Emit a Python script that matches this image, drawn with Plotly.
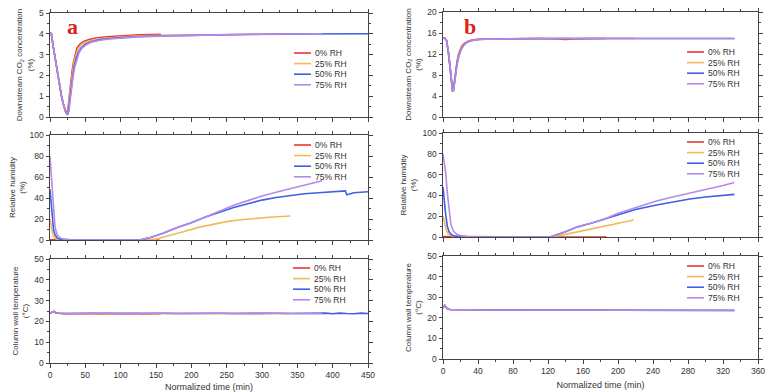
import plotly.graph_objects as go

# ---------------- data ----------------
SERIES = ["0% RH", "25% RH", "50% RH", "75% RH"]
COLORS = ["#e8383a", "#f2b95a", "#3f5fe6", "#b58ae8"]

X_TICKS_A = [0, 50, 100, 150, 200, 250, 300, 350, 400, 450]
X_TICKS_B = [0, 40, 80, 120, 160, 200, 240, 280, 320, 360]
Y_TICKS_CO2_A = [0, 1, 2, 3, 4, 5]
Y_TICKS_CO2_B = [0, 4, 8, 12, 16, 20]
Y_TICKS_RH = [0, 20, 40, 60, 80, 100]
Y_TICKS_TEMP = [0, 10, 20, 30, 40, 50]

TITLE_CO2 = "Downstream CO<sub>2</sub> concentration<br>(%)"
TITLE_RH = "Relative humidity<br>(%)"
TITLE_TEMP = "Column wall temperature<br>(°C)"
TITLE_X = "Normalized time (min)"
PANEL_LABELS = ["a", "b"]

# panel a : downstream CO2
A_CO2_T0 = [0, 2, 4, 7, 10, 13, 16, 19, 22, 24, 25.5, 27, 29, 31, 33, 35, 38, 42, 47, 55, 65, 80, 100, 125, 157]
A_CO2_0 = [4.05, 4.0, 3.5, 2.85, 2.2, 1.6, 1.05, 0.6, 0.25, 0.12, 0.4, 0.95, 1.6, 2.15, 2.6, 2.95, 3.3, 3.5, 3.62, 3.72, 3.8, 3.86, 3.91, 3.95, 3.97]
A_CO2_T1 = [0, 2, 4, 7, 10, 13, 16, 19, 22, 24.5, 26, 27.5, 29.5, 31.5, 33.5, 36, 39, 43, 48, 56, 66, 80, 100, 125, 157, 200, 250, 300, 340]
A_CO2_1 = [4.05, 4.0, 3.5, 2.85, 2.2, 1.6, 1.05, 0.6, 0.25, 0.1, 0.4, 0.95, 1.6, 2.1, 2.55, 2.9, 3.22, 3.42, 3.56, 3.66, 3.74, 3.8, 3.86, 3.9, 3.93, 3.95, 3.97, 3.98, 3.98]
A_CO2_T2 = [0, 2, 4, 7, 10, 13, 16, 19, 22, 25, 26.5, 28, 30, 32, 34, 37, 40, 44, 50, 58, 68, 82, 100, 125, 157, 200, 250, 300, 350, 400, 450]
A_CO2_2 = [4.05, 4.0, 3.5, 2.85, 2.2, 1.6, 1.05, 0.6, 0.25, 0.1, 0.35, 0.85, 1.45, 1.95, 2.4, 2.8, 3.1, 3.32, 3.5, 3.62, 3.7, 3.77, 3.82, 3.87, 3.9, 3.93, 3.96, 3.98, 3.99, 4.0, 4.0]
A_CO2_T3 = [0, 2, 4, 7, 10, 13, 16, 19, 22, 25, 27, 28.5, 30.5, 32.5, 35, 38, 41, 45, 51, 59, 69, 83, 100, 125, 157, 200, 250, 300, 350, 385]
A_CO2_3 = [4.05, 4.0, 3.5, 2.85, 2.2, 1.6, 1.05, 0.6, 0.25, 0.1, 0.3, 0.8, 1.4, 1.9, 2.4, 2.8, 3.08, 3.3, 3.47, 3.6, 3.68, 3.75, 3.8, 3.85, 3.89, 3.93, 3.96, 3.98, 3.99, 4.0]

# panel b : downstream CO2
B_CO2_T0 = [0, 2, 4, 6, 8, 10, 11, 12, 14, 16, 18, 21, 24, 28, 33, 40, 50, 65, 85, 110, 130, 140, 150, 170, 187]
B_CO2_0 = [15.1, 15.0, 14.6, 12.5, 9.4, 6.1, 4.8, 5.3, 8.2, 10.5, 12.1, 13.4, 14.0, 14.4, 14.65, 14.8, 14.87, 14.9, 14.92, 14.93, 14.85, 14.75, 14.88, 14.95, 14.96]
B_CO2_T1 = [0, 2, 4, 6, 8, 10, 11, 12, 14, 16, 18, 21, 24, 28, 33, 40, 50, 65, 85, 110, 140, 170, 200, 218]
B_CO2_1 = [15.1, 15.0, 14.6, 12.6, 9.6, 6.3, 4.9, 5.2, 8.0, 10.3, 11.9, 13.2, 13.9, 14.35, 14.6, 14.78, 14.86, 14.9, 14.92, 14.94, 14.95, 14.96, 14.97, 14.97]
B_CO2_T2 = [0, 2, 4, 6, 8, 10, 11, 12, 14, 16, 18, 21, 24, 28, 33, 40, 50, 65, 85, 110, 140, 170, 200, 250, 300, 333]
B_CO2_2 = [15.1, 15.0, 14.6, 12.6, 9.7, 6.4, 5.0, 5.1, 7.8, 10.1, 11.7, 13.0, 13.8, 14.3, 14.58, 14.76, 14.85, 14.9, 14.92, 14.94, 14.95, 14.96, 14.97, 14.98, 14.99, 14.95]
B_CO2_T3 = [0, 2, 4, 6, 8, 10, 11, 12, 14, 16, 18, 21, 24, 28, 33, 40, 50, 65, 85, 110, 140, 170, 200, 250, 300, 333]
B_CO2_3 = [15.1, 15.0, 14.6, 12.7, 9.8, 6.5, 5.0, 5.0, 7.6, 9.9, 11.5, 12.9, 13.7, 14.25, 14.55, 14.74, 14.84, 14.89, 14.92, 14.94, 14.95, 14.96, 14.97, 14.98, 14.98, 14.95]

# panel a : relative humidity
A_RH_T0 = [0, 20, 50, 100, 155]
A_RH_0 = [0.3, 0, 0, 0, 0]
A_RH_T1 = [0, 2, 4, 6, 9, 12, 16, 25, 40, 80, 130, 150, 170, 190, 210, 230, 250, 270, 290, 310, 340]
A_RH_1 = [20, 10, 5, 2.5, 1, 0.5, 0.2, 0.1, 0, 0, 0, 1.0, 4.2, 8, 12, 15, 17.5, 19.3, 20.6, 21.6, 22.8]
A_RH_T2 = [0, 1, 3, 5, 7, 10, 14, 20, 30, 60, 100, 127, 140, 160, 180, 200, 220, 240, 260, 280, 300, 320, 340, 360, 380, 400, 418, 420, 422, 430, 450]
A_RH_2 = [48, 40, 22, 10, 5, 2, 0.8, 0.3, 0.1, 0, 0, 0, 2, 6.5, 12, 16.5, 22, 26.5, 31, 34.5, 38, 40.5, 42.5, 44, 45, 46, 46.7, 43, 43.5, 45, 46]
A_RH_T3 = [0, 1, 3, 5, 7, 10, 14, 20, 30, 60, 100, 127, 140, 160, 180, 200, 220, 240, 260, 280, 300, 320, 340, 360, 385]
A_RH_3 = [80, 70, 45, 25, 13, 5, 2, 0.7, 0.2, 0, 0, 0, 2, 6.5, 12, 16.5, 22, 27.5, 33, 37.5, 42, 45.5, 49, 52.5, 56.5]

# panel b : relative humidity
B_RH_T0 = [0, 50, 100, 150, 187]
B_RH_0 = [0.5, 0, 0, 0, 0]
B_RH_T1 = [0, 2, 4, 6, 9, 12, 16, 25, 50, 100, 122, 140, 153, 170, 182, 200, 218]
B_RH_1 = [20, 12, 6, 3, 1.5, 0.7, 0.3, 0.1, 0, 0, 0, 2.5, 4.8, 7.5, 9.8, 13, 16.3]
B_RH_T2 = [0, 1, 3, 5, 7, 10, 14, 20, 30, 60, 100, 122, 140, 153, 170, 181, 183, 200, 220, 244, 260, 282, 300, 320, 333]
B_RH_2 = [48, 38, 22, 10, 5, 2, 0.8, 0.3, 0.1, 0, 0, 0, 5, 9.5, 13.5, 16.3, 17.2, 21.5, 26.5, 30.8, 33.3, 36.5, 38.5, 40.2, 41]
B_RH_T3 = [0, 1, 3, 5, 7, 9, 12, 16, 20, 30, 60, 100, 122, 140, 153, 170, 182, 200, 220, 244, 260, 282, 300, 320, 333]
B_RH_3 = [80, 75, 62, 42, 25, 12, 5.5, 2.5, 1.5, 0.3, 0, 0, 0, 5, 9.5, 13.5, 16.3, 22.8, 28.5, 34.6, 38, 42, 45.5, 49.5, 52.5]

# panel a : column wall temperature
A_TEMP_T0 = [0, 3, 5, 8, 12, 20, 30, 40, 50, 60, 70, 80, 90, 100, 110, 120, 130, 140, 150, 157]
A_TEMP_0 = [23.9, 24.3, 24.8, 24.2, 23.9, 23.7, 23.8, 23.6, 23.7, 23.8, 23.6, 23.7, 23.8, 23.6, 23.7, 23.8, 23.6, 23.7, 23.8, 23.7]
A_TEMP_T1 = [0, 3, 5, 8, 12, 20, 40, 60, 80, 100, 120, 140, 160, 180, 200, 220, 240, 260, 280, 300, 320, 340]
A_TEMP_1 = [23.9, 24.3, 24.7, 24.2, 23.9, 23.8, 23.7, 23.8, 23.7, 23.8, 23.7, 23.8, 23.7, 23.8, 23.7, 23.8, 23.7, 23.8, 23.7, 23.8, 23.7, 23.8]
A_TEMP_T2 = [0, 3, 5, 8, 12, 20, 40, 60, 80, 100, 120, 140, 160, 180, 200, 220, 240, 260, 280, 300, 320, 340, 360, 380, 390, 400, 410, 420, 430, 440, 450]
A_TEMP_2 = [23.9, 24.3, 24.8, 24.2, 23.9, 23.8, 23.9, 23.8, 23.9, 23.8, 23.9, 23.8, 23.9, 23.8, 23.9, 23.8, 23.9, 23.8, 23.9, 23.8, 23.9, 23.8, 23.9, 23.8, 24.0, 23.7, 24.0, 23.8, 23.7, 24.0, 23.8]
A_TEMP_T3 = [0, 3, 5, 8, 12, 20, 40, 60, 80, 100, 120, 140, 160, 180, 200, 220, 240, 260, 280, 300, 320, 340, 360, 385]
A_TEMP_3 = [23.9, 24.3, 24.8, 24.2, 23.9, 23.8, 23.9, 23.8, 23.9, 23.8, 23.9, 23.8, 23.9, 23.8, 23.9, 23.8, 23.9, 23.8, 23.9, 23.8, 23.9, 23.8, 23.9, 23.8]

# panel b : column wall temperature
B_TEMP_T0 = [0, 1, 2, 3, 5, 8, 15, 30, 60, 90, 120, 150, 187]
B_TEMP_0 = [24.8, 25.5, 26.0, 25.3, 24.4, 24.0, 23.9, 23.9, 23.8, 23.8, 23.8, 23.7, 23.7]
B_TEMP_T1 = [0, 1, 2, 3, 5, 8, 15, 30, 60, 90, 120, 150, 180, 218]
B_TEMP_1 = [24.8, 25.5, 26.0, 25.3, 24.4, 24.0, 23.9, 23.9, 23.8, 23.8, 23.8, 23.7, 23.7, 23.7]
B_TEMP_T2 = [0, 1, 2, 3, 5, 8, 15, 30, 60, 90, 120, 150, 180, 210, 240, 270, 300, 333]
B_TEMP_2 = [24.8, 25.5, 26.0, 25.3, 24.4, 24.0, 23.9, 23.9, 23.8, 23.8, 23.8, 23.7, 23.7, 23.7, 23.6, 23.6, 23.6, 23.6]
B_TEMP_T3 = [0, 1, 2, 3, 5, 8, 15, 30, 60, 90, 120, 150, 180, 210, 240, 270, 300, 333]
B_TEMP_3 = [24.8, 25.5, 26.0, 25.3, 24.4, 24.0, 23.9, 23.9, 23.8, 23.8, 23.8, 23.7, 23.7, 23.7, 23.6, 23.6, 23.6, 23.6]

# ---------------- figure ----------------
PAGE_OFF = 8            # default page margin of the html body
W, H = 780 - PAGE_OFF, 392 - PAGE_OFF


def fx(px):
    return (px - PAGE_OFF) / W


def fy(py):
    return 1 - (py - PAGE_OFF) / H


panels = [
    ([A_CO2_T0, A_CO2_T1, A_CO2_T2, A_CO2_T3], [A_CO2_0, A_CO2_1, A_CO2_2, A_CO2_3]),
    ([B_CO2_T0, B_CO2_T1, B_CO2_T2, B_CO2_T3], [B_CO2_0, B_CO2_1, B_CO2_2, B_CO2_3]),
    ([A_RH_T0, A_RH_T1, A_RH_T2, A_RH_T3], [A_RH_0, A_RH_1, A_RH_2, A_RH_3]),
    ([B_RH_T0, B_RH_T1, B_RH_T2, B_RH_T3], [B_RH_0, B_RH_1, B_RH_2, B_RH_3]),
    ([A_TEMP_T0, A_TEMP_T1, A_TEMP_T2, A_TEMP_T3], [A_TEMP_0, A_TEMP_1, A_TEMP_2, A_TEMP_3]),
    ([B_TEMP_T0, B_TEMP_T1, B_TEMP_T2, B_TEMP_T3], [B_TEMP_0, B_TEMP_1, B_TEMP_2, B_TEMP_3]),
]

# plot-area page-pixel boxes (left, right, top, bottom)
boxes = [
    (50, 368, 13, 117), (443, 758, 12, 117),
    (50, 368, 135, 240), (443, 758, 133, 237),
    (50, 368, 259, 363), (443, 758, 256, 359),
]
yticks = [Y_TICKS_CO2_A, Y_TICKS_CO2_B, Y_TICKS_RH, Y_TICKS_RH, Y_TICKS_TEMP, Y_TICKS_TEMP]
ytitles = [TITLE_CO2, TITLE_CO2, TITLE_RH, TITLE_RH, TITLE_TEMP, TITLE_TEMP]
legend_pos = [(294, 53), (687, 52), (294, 145), (687, 142), (293, 268), (687, 266)]

fig = go.Figure()
FONT = "Liberation Sans"
AX = "#444444"
TXT = "#333333"

for i, (ts, ys) in enumerate(panels):
    n = i + 1
    xref = "x" if n == 1 else f"x{n}"
    yref = "y" if n == 1 else f"y{n}"
    for k in range(4):
        fig.add_trace(go.Scatter(x=ts[k], y=ys[k], mode="lines", name=SERIES[k],
                                 line=dict(color=COLORS[k], width=1.6),
                                 xaxis=xref, yaxis=yref, showlegend=False))
    l, r, t, b = boxes[i]
    xt = X_TICKS_A if i % 2 == 0 else X_TICKS_B
    yt = yticks[i]
    bottom_row = i >= 4
    xa = dict(domain=[fx(l), fx(r)], anchor=yref, range=[xt[0], xt[-1]],
              tickvals=xt, showticklabels=bottom_row, automargin=False,
              ticklabeloverflow="allow",
              ticks="outside", ticklen=3.5, tickwidth=1, tickcolor=AX,
              minor=dict(ticks="outside", ticklen=2, tickcolor=AX,
                         dtick=(xt[1] - xt[0]) / 2, tick0=0),
              showline=True, linecolor=AX, linewidth=1, mirror="ticks",
              showgrid=False, zeroline=False,
              tickfont=dict(family=FONT, size=8.5, color=TXT))
    if bottom_row:
        xa["title"] = dict(text=TITLE_X, font=dict(family=FONT, size=9, color=TXT), standoff=6)
    ya = dict(domain=[fy(b), fy(t)], anchor=xref, range=[yt[0], yt[-1]],
              tickvals=yt, ticks="outside", ticklen=3.5, tickwidth=1, tickcolor=AX,
              automargin=False, ticklabeloverflow="allow",
              minor=dict(ticks="outside", ticklen=2, tickcolor=AX,
                         dtick=(yt[1] - yt[0]) / 2, tick0=0),
              showline=True, linecolor=AX, linewidth=1, mirror="ticks",
              showgrid=False, zeroline=False,
              tickfont=dict(family=FONT, size=8.5, color=TXT),
              title=dict(text=ytitles[i], font=dict(family=FONT, size=8, color=TXT), standoff=4))
    fig.layout["xaxis" if n == 1 else f"xaxis{n}"] = xa
    fig.layout["yaxis" if n == 1 else f"yaxis{n}"] = ya

    # legend drawn as paper-referenced shapes + text
    lx, ly = legend_pos[i]
    for k in range(4):
        yy = ly + k * 10.6
        fig.add_shape(type="line", xref="paper", yref="paper",
                      x0=fx(lx), x1=fx(lx + 17), y0=fy(yy), y1=fy(yy),
                      line=dict(color=COLORS[k], width=1.6))
        fig.add_annotation(xref="paper", yref="paper", x=fx(lx + 19), y=fy(yy),
                           text=SERIES[k], showarrow=False, xanchor="left", yanchor="middle",
                           font=dict(family=FONT, size=8.5, color=TXT))

# panel labels
for (px, py), lab in zip([(72, 26), (470, 26)], PANEL_LABELS):
    fig.add_annotation(xref="paper", yref="paper", x=fx(px), y=fy(py),
                       text=f"<b>{lab}</b>", showarrow=False, xanchor="center", yanchor="middle",
                       font=dict(family="Liberation Serif", size=22, color="#e0201c"))

fig.update_layout(width=W, height=H, margin=dict(l=0, r=0, t=0, b=0),
                  paper_bgcolor="white", plot_bgcolor="white",
                  font=dict(family=FONT, color=TXT))

fig.write_html("out.html")
